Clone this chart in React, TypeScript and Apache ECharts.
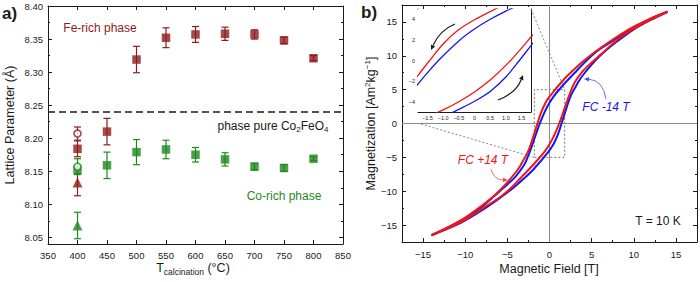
import React, { useEffect, useRef } from 'react';
import * as echarts from 'echarts';

const FONT = "'Liberation Sans', Arial, Helvetica, sans-serif";
const FE_COLOR = '#8e1b1b';
const CO_COLOR = '#1d8a1d';
const RED = '#f01616';
const BLUE = '#1616f0';
const INK = '#1a1a1a';

// ---------- panel (a): lattice parameter vs calcination temperature ----------
const T_CALCINATION = [450, 500, 550, 600, 650, 700, 750, 800];
const FE_RICH_A = [8.21, 8.319, 8.352, 8.357, 8.358, 8.357, 8.348, 8.321];
const FE_RICH_ERR = [0.02, 0.02, 0.015, 0.012, 0.01, 0.007, 0.005, 0.004];
const CO_RICH_A = [8.159, 8.179, 8.183, 8.175, 8.168, 8.157, 8.155, 8.169];
const CO_RICH_ERR = [0.02, 0.019, 0.014, 0.011, 0.01, 0.005, 0.005, 0.003];

// samples calcined at 400 °C: [T, a, error]
const FE_400_SQUARE = [400, 8.184, 0.012];
const FE_400_CIRCLE = [400, 8.207, 0.01];
const FE_400_TRIANGLE = [400, 8.133, 0.02];
const CO_400_SQUARE = [400, 8.152, 0.006];
const CO_400_CIRCLE = [400, 8.157, 0.012];
const CO_400_TRIANGLE = [400, 8.068, 0.02];

const CO2FEO4_A = 8.243;

const A_X_RANGE = [350, 850];
const A_X_TICKS = [350, 400, 450, 500, 550, 600, 650, 700, 750, 800, 850];
const A_Y_RANGE = [8.04, 8.4];
const A_Y_TICKS = [8.05, 8.1, 8.15, 8.2, 8.25, 8.3, 8.35, 8.4];
const A_Y_MINOR = [8.075, 8.125, 8.175, 8.225, 8.275, 8.325, 8.375];

// ---------- panel (b): hysteresis loops at 10 K ----------
// field cooled in +14 T, field sweeping down / up
const FCP_DOWN_H = [14, 12, 10, 8, 6, 5, 4, 3, 2, 1.5, 1, 0.5, 0, -0.5, -1, -1.43, -1.8, -2.2, -2.6, -3, -3.5, -4, -5, -6, -7, -8, -10, -12, -14];
const FCP_DOWN_M = [16.5, 15.5, 14.3, 12.8, 11.1, 10.2, 9.2, 8.1, 6.9, 6.2, 5.5, 4.75, 3.96, 3.0, 1.6, 0, -1.45, -3.0, -4.3, -5.2, -6.3, -7.2, -8.7, -10.0, -11.1, -12.1, -13.9, -15.3, -16.5];
const FCP_UP_H = [-14, -12, -10, -8, -6, -5, -4, -3, -2, -1.5, -1, -0.5, 0, 0.5, 1.15, 1.5, 1.82, 2.2, 2.6, 3, 4, 5, 6, 8, 10, 12, 14];
const FCP_UP_M = [-16.5, -15.5, -14.2, -12.6, -11.0, -10.0, -8.8, -7.5, -6.2, -5.5, -4.8, -4.0, -3.05, -1.9, 0, 1.2, 2.35, 3.7, 5.0, 6.1, 7.8, 9.0, 10.1, 12.3, 14.0, 15.3, 16.5];
// field cooled in -14 T
const FCN_DOWN_H = [14, 12, 10, 8, 6, 5, 4, 3, 2, 1.5, 1, 0.5, 0, -0.5, -1.15, -1.5, -1.82, -2.2, -2.6, -3, -4, -5, -6, -8, -10, -12, -14];
const FCN_DOWN_M = [16.5, 15.5, 14.2, 12.6, 11.0, 10.0, 8.8, 7.5, 6.2, 5.5, 4.8, 4.0, 3.05, 1.9, 0, -1.2, -2.35, -3.7, -5.0, -6.1, -7.8, -9.0, -10.1, -12.3, -14.0, -15.3, -16.5];
const FCN_UP_H = [-14, -12, -10, -8, -6, -5, -4, -3, -2, -1.5, -1, -0.5, 0, 0.5, 1, 1.43, 1.8, 2.2, 2.6, 3, 3.5, 4, 5, 6, 7, 8, 10, 12, 14];
const FCN_UP_M = [-16.5, -15.5, -14.3, -12.8, -11.1, -10.2, -9.2, -8.1, -6.9, -6.2, -5.5, -4.75, -3.96, -3.0, -1.6, 0, 1.45, 3.0, 4.3, 5.2, 6.3, 7.2, 8.7, 10.0, 11.1, 12.1, 13.9, 15.3, 16.5];

const B_RANGE = [-17.5, 17.5];
const B_TICKS = [-15, -10, -5, 0, 5, 10, 15];
const B_MINOR = [-12.5, -7.5, -2.5, 2.5, 7.5, 12.5];

// zoomed window shown in the inset
const ZOOM_H = [-1.8, 1.8];
const ZOOM_M = [-5, 5];
const INSET_H_TICKS = [-1.5, -1, -0.5, 0, 0.5, 1, 1.5];
const INSET_H_MINOR = [-1.75, -1.25, -0.75, -0.25, 0.25, 0.75, 1.25, 1.75];
const INSET_M_TICKS = [-4, -2, 0, 2, 4];
const INSET_M_MINOR = [-3, -1, 1, 3];

const zip = (xs: number[], ys: number[]) => xs.map((x, i) => [x, ys[i]]);
const zip3 = (xs: number[], ys: number[], es: number[]) => xs.map((x, i) => [x, ys[i], es[i]]);
const minus = (s: string) => s.replace('-', '\u2212');

type AxisSpec = {
  grid: number;
  dim: 'x' | 'y';
  range: number[];
  major: number[];
  minor: number[];
  fmt?: (v: number) => string;
  fontSize: number;
  margin: number;
  majorLen: number;
  minorLen: number;
};

function boxAxes(s: AxisSpec) {
  const near = s.dim === 'x' ? 'bottom' : 'left';
  const far = s.dim === 'x' ? 'top' : 'right';
  const base = {
    type: 'value',
    gridIndex: s.grid,
    min: s.range[0],
    max: s.range[1],
    splitLine: { show: false },
    silent: true,
  };
  const line = { show: true, onZero: false, lineStyle: { color: INK, width: 1 } };
  const noLine = { show: false, onZero: false };
  const tickStyle = { color: INK, width: 1 };
  const majorTick = { show: true, inside: true, length: s.majorLen, customValues: s.major, lineStyle: tickStyle };
  const minorTick = { show: true, inside: true, length: s.minorLen, customValues: s.minor, lineStyle: tickStyle };
  const axes: any[] = [
    {
      ...base,
      position: near,
      axisLine: line,
      axisTick: majorTick,
      axisLabel: {
        show: true,
        customValues: s.major,
        formatter: s.fmt,
        fontSize: s.fontSize,
        margin: s.margin,
        color: INK,
        fontFamily: FONT,
      },
    },
    { ...base, position: far, axisLine: line, axisTick: majorTick, axisLabel: { show: false } },
  ];
  if (s.minor.length) {
    axes.push({ ...base, position: near, axisLine: noLine, axisTick: minorTick, axisLabel: { show: false } });
    axes.push({ ...base, position: far, axisLine: noLine, axisTick: minorTick, axisLabel: { show: false } });
  }
  return axes;
}

function errorBars(name: string, data: number[][], color: string, xi: number, yi: number) {
  return {
    type: 'custom',
    name,
    xAxisIndex: xi,
    yAxisIndex: yi,
    data,
    encode: { x: 0, y: 1 },
    silent: true,
    z: 2,
    renderItem: (_params: any, api: any) => {
      const x = api.value(0);
      const y = api.value(1);
      const e = api.value(2);
      const hi = api.coord([x, y + e]);
      const lo = api.coord([x, y - e]);
      const w = 3.5;
      const style = { stroke: color, lineWidth: 1.2, fill: 'none' };
      return {
        type: 'group',
        children: [
          { type: 'line', shape: { x1: hi[0], y1: hi[1], x2: lo[0], y2: lo[1] }, style },
          { type: 'line', shape: { x1: hi[0] - w, y1: hi[1], x2: hi[0] + w, y2: hi[1] }, style },
          { type: 'line', shape: { x1: lo[0] - w, y1: lo[1], x2: lo[0] + w, y2: lo[1] }, style },
        ],
      };
    },
  };
}

function markers(name: string, data: number[][], symbol: string, size: number, color: string, xi: number, yi: number, open = false) {
  return {
    type: 'scatter',
    name,
    xAxisIndex: xi,
    yAxisIndex: yi,
    data,
    symbol,
    symbolSize: size,
    silent: true,
    z: open ? 4 : 3,
    itemStyle: open ? { color: '#ffffff', borderColor: color, borderWidth: 1.6 } : { color },
  };
}

function curve(name: string, h: number[], m: number[], color: string, xi: number, yi: number, width: number, extra: any = {}) {
  return {
    type: 'line',
    name,
    xAxisIndex: xi,
    yAxisIndex: yi,
    data: zip(h, m),
    showSymbol: false,
    symbol: 'none',
    smooth: 0.3,
    clip: true,
    silent: true,
    z: 3,
    lineStyle: { color, width },
    itemStyle: { color },
    ...extra,
  };
}

function text(x: number, y: number, content: string, o: any = {}) {
  return {
    type: 'text',
    x,
    y,
    rotation: o.rotation || 0,
    z: 50,
    silent: true,
    style: {
      text: content,
      fill: o.color || INK,
      fontSize: o.fontSize || 12,
      fontFamily: FONT,
      fontWeight: o.fontWeight || 'normal',
      fontStyle: o.fontStyle || 'normal',
      align: o.align || 'center',
      textAlign: o.align || 'center',
      verticalAlign: 'middle',
      textVerticalAlign: 'middle',
      rich: o.rich,
    },
  };
}

function arrow(from: number[], cp: number[], tip: number[], color: string, width: number) {
  const dx = tip[0] - cp[0];
  const dy = tip[1] - cp[1];
  const d = Math.hypot(dx, dy);
  const ux = dx / d;
  const uy = dy / d;
  const len = 5;
  const half = 2.3;
  const bx = tip[0] - ux * len;
  const by = tip[1] - uy * len;
  return [
    {
      type: 'bezierCurve',
      z: 50,
      silent: true,
      shape: { x1: from[0], y1: from[1], cpx1: cp[0], cpy1: cp[1], x2: bx, y2: by },
      style: { stroke: color, lineWidth: width, fill: 'none' },
    },
    {
      type: 'polygon',
      z: 50,
      silent: true,
      shape: { points: [[tip[0], tip[1]], [bx - uy * half, by + ux * half], [bx + uy * half, by - ux * half]] },
      style: { fill: color },
    },
  ];
}

function buildOption() {
  const xAxes: any[] = [];
  const yAxes: any[] = [];
  const add = (list: any[], spec: AxisSpec) => {
    const idx = list.length;
    list.push(...boxAxes(spec));
    return idx;
  };

  const axA = add(xAxes, { grid: 0, dim: 'x', range: A_X_RANGE, major: A_X_TICKS, minor: [], fontSize: 9.5, margin: 6, majorLen: 4, minorLen: 2 });
  const ayA = add(yAxes, { grid: 0, dim: 'y', range: A_Y_RANGE, major: A_Y_TICKS, minor: A_Y_MINOR, fmt: (v) => v.toFixed(2), fontSize: 9.5, margin: 5, majorLen: 4, minorLen: 2 });
  const axB = add(xAxes, { grid: 1, dim: 'x', range: B_RANGE, major: B_TICKS, minor: B_MINOR, fmt: (v) => minus(String(v)), fontSize: 9.5, margin: 7, majorLen: 4, minorLen: 2 });
  const ayB = add(yAxes, { grid: 1, dim: 'y', range: B_RANGE, major: B_TICKS, minor: B_MINOR, fmt: (v) => minus(String(v)), fontSize: 9.5, margin: 5, majorLen: 4, minorLen: 2 });
  const axI = add(xAxes, { grid: 2, dim: 'x', range: ZOOM_H, major: INSET_H_TICKS, minor: INSET_H_MINOR, fmt: (v) => (v === 0 ? '0' : minus(v.toFixed(1))), fontSize: 5.5, margin: 3, majorLen: 3, minorLen: 1.5 });
  const ayI = add(yAxes, { grid: 2, dim: 'y', range: ZOOM_M, major: INSET_M_TICKS, minor: INSET_M_MINOR, fmt: (v) => minus(String(v)), fontSize: 5.5, margin: 3, majorLen: 3, minorLen: 1.5 });

  const feBars = [...zip3(T_CALCINATION, FE_RICH_A, FE_RICH_ERR), FE_400_SQUARE, FE_400_CIRCLE, FE_400_TRIANGLE];
  const coBars = [...zip3(T_CALCINATION, CO_RICH_A, CO_RICH_ERR), CO_400_SQUARE, CO_400_CIRCLE, CO_400_TRIANGLE];

  const zeroLines = (color: string) => ({
    silent: true,
    symbol: ['none', 'none'],
    label: { show: false },
    lineStyle: { color, width: 1, type: 'solid' },
    data: [{ xAxis: 0 }, { yAxis: 0 }],
    z: 1,
  });

  const series: any[] = [
    errorBars('Fe-rich error', feBars, FE_COLOR, axA, ayA),
    errorBars('Co-rich error', coBars, CO_COLOR, axA, ayA),
    {
      ...markers('Fe-rich phase', [...zip(T_CALCINATION, FE_RICH_A), FE_400_SQUARE.slice(0, 2)], 'rect', 8.5, FE_COLOR, axA, ayA),
      markLine: {
        silent: true,
        symbol: ['none', 'none'],
        label: { show: false },
        lineStyle: { color: INK, width: 1.5, type: [7, 4] },
        data: [{ yAxis: CO2FEO4_A }],
      },
    },
    markers('Co-rich phase', [...zip(T_CALCINATION, CO_RICH_A), CO_400_SQUARE.slice(0, 2)], 'rect', 8.5, CO_COLOR, axA, ayA),
    markers('Fe-rich triangle', [FE_400_TRIANGLE.slice(0, 2)], 'triangle', 10, FE_COLOR, axA, ayA),
    markers('Co-rich triangle', [CO_400_TRIANGLE.slice(0, 2)], 'triangle', 10, CO_COLOR, axA, ayA),
    markers('Fe-rich circle', [FE_400_CIRCLE.slice(0, 2)], 'circle', 7, FE_COLOR, axA, ayA, true),
    markers('Co-rich circle', [CO_400_CIRCLE.slice(0, 2)], 'circle', 7, CO_COLOR, axA, ayA, true),

    curve('FC -14 T down', FCN_DOWN_H, FCN_DOWN_M, BLUE, axB, ayB, 2, {
      markLine: zeroLines('#8a8a8a'),
      markArea: {
        silent: true,
        label: { show: false },
        itemStyle: { color: 'rgba(0,0,0,0)', borderColor: '#555', borderWidth: 0.8, borderType: [2, 2] },
        data: [[{ coord: [ZOOM_H[0], ZOOM_M[0]] }, { coord: [ZOOM_H[1], ZOOM_M[1]] }]],
      },
    }),
    curve('FC -14 T up', FCN_UP_H, FCN_UP_M, BLUE, axB, ayB, 2),
    curve('FC +14 T down', FCP_DOWN_H, FCP_DOWN_M, RED, axB, ayB, 2),
    curve('FC +14 T up', FCP_UP_H, FCP_UP_M, RED, axB, ayB, 2),

    curve('inset FC -14 T down', FCN_DOWN_H, FCN_DOWN_M, BLUE, axI, ayI, 1.3, { markLine: zeroLines('#555') }),
    curve('inset FC -14 T up', FCN_UP_H, FCN_UP_M, BLUE, axI, ayI, 1.3),
    curve('inset FC +14 T down', FCP_DOWN_H, FCP_DOWN_M, RED, axI, ayI, 1.3),
    curve('inset FC +14 T up', FCP_UP_H, FCP_UP_M, RED, axI, ayI, 1.3),
  ];

  const titleRich = {
    n: { fontSize: 12.5, fontFamily: FONT, fill: INK, color: INK, lineHeight: 16, verticalAlign: 'middle' },
    sup: { fontSize: 8, fontFamily: FONT, fill: INK, color: INK, lineHeight: 9, verticalAlign: 'top' },
    sub: { fontSize: 8.5, fontFamily: FONT, fill: INK, color: INK, lineHeight: 9, verticalAlign: 'bottom' },
  };
  const phaseRich = {
    n: { fontSize: 12, fontFamily: FONT, fill: INK, color: INK, lineHeight: 15, verticalAlign: 'middle' },
    sub: { fontSize: 8, fontFamily: FONT, fill: INK, color: INK, lineHeight: 8, verticalAlign: 'bottom' },
  };

  const graphic: any[] = [
    text(2, 13, 'a)', { align: 'left', fontSize: 17, fontWeight: 'bold' }),
    text(361, 12.5, 'b)', { align: 'left', fontSize: 17, fontWeight: 'bold' }),
    text(10, 125, 'Lattice Parameter (\u00c5)', { rotation: Math.PI / 2, fontSize: 12.5 }),
    text(193, 268, '{n|T}{sub|calcination}{n| (\u00b0C)}', { rich: titleRich }),
    text(371, 123.5, '{n|Magnetization [Am}{sup|2}{n|kg}{sup|\u22121}{n|]}', { rotation: Math.PI / 2, rich: titleRich }),
    text(549, 269, 'Magnetic Field [T]', { fontSize: 12.5 }),
    text(100, 28, 'Fe-rich phase', { color: FE_COLOR, fontSize: 12 }),
    text(273, 126, '{n|phase pure Co}{sub|2}{n|FeO}{sub|4}', { rich: phaseRich }),
    text(284, 196, 'Co-rich phase', { color: CO_COLOR, fontSize: 12 }),
    text(658, 221, 'T = 10 K', { fontSize: 12 }),
    text(606, 107, 'FC -14 T', { color: BLUE, fontSize: 12, fontStyle: 'italic' }),
    text(483, 160, 'FC +14 T', { color: RED, fontSize: 12, fontStyle: 'italic' }),
    ...arrow([606, 99], [603, 80], [584, 79], '#4a4af0', 0.8),
    ...arrow([491, 169], [494, 180], [508, 180], '#f04a4a', 0.8),
    ...arrow([455, 24], [440, 30], [431, 50], INK, 1.2),
    ...arrow([498, 100], [516, 93], [523, 75], INK, 1.2),
    {
      type: 'line',
      z: 40,
      silent: true,
      shape: { x1: 531, y1: 9, x2: 564.7, y2: 89.6 },
      style: { stroke: '#666', lineWidth: 0.8, lineDash: [2, 2] },
    },
    {
      type: 'line',
      z: 40,
      silent: true,
      shape: { x1: 421, y1: 124, x2: 534.3, y2: 157.4 },
      style: { stroke: '#666', lineWidth: 0.8, lineDash: [2, 2] },
    },
  ];

  return {
    animation: false,
    backgroundColor: '#ffffff',
    textStyle: { fontFamily: FONT },
    grid: [
      { left: 48, top: 6, width: 295, height: 238, containLabel: false, outerBoundsMode: 'none' },
      { left: 402, top: 5, width: 295, height: 237, containLabel: false, outerBoundsMode: 'none' },
      { left: 418, top: 9, width: 113, height: 103, containLabel: false, outerBoundsMode: 'none', show: true, backgroundColor: '#ffffff', borderWidth: 0, z: 2 },
    ],
    xAxis: xAxes,
    yAxis: yAxes,
    series,
    graphic,
  };
}

export default function App() {
  const ref = useRef<HTMLDivElement>(null);
  useEffect(() => {
    if (!ref.current) return;
    const chart = echarts.init(ref.current, null, { renderer: 'svg' });
    chart.setOption(buildOption() as any);
    return () => chart.dispose();
  }, []);
  return (
    <div
      ref={ref}
      style={{ position: 'absolute', left: 0, top: 0, width: 700, height: 282, background: '#fff' }}
    />
  );
}
